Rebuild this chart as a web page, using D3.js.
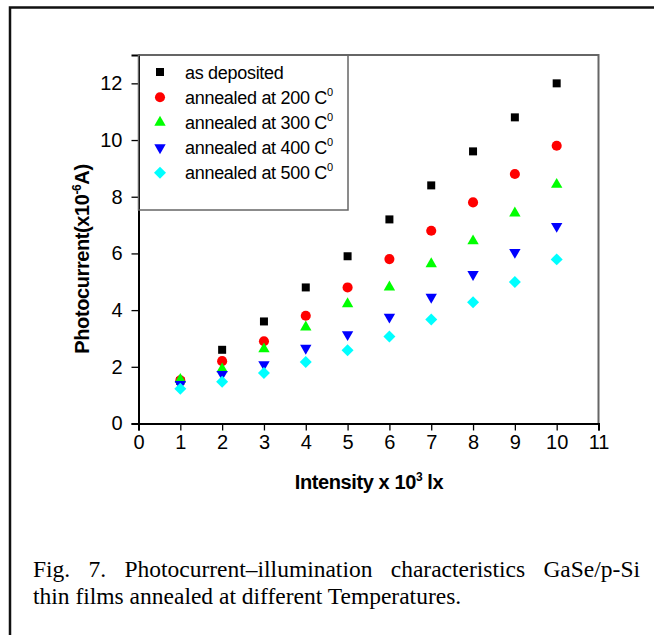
<!DOCTYPE html>
<html lang="en">
<head>
  <meta charset="UTF-8">
  <title>Photocurrent vs Intensity</title>
  <script src="https://d3js.org/d3.v7.min.js"></script>
  <style>
    body { margin: 0; background: #fff; }
    svg { display: block; }
    .tick text { font-family: "Liberation Sans", Arial, sans-serif; font-size: 20px; fill: #000; }
  </style>
</head>
<body>
  <svg width="654" height="635"></svg>
  <script>
    // values
    const intensity = [1, 2, 3, 4, 5, 6, 7, 8, 9, 10];
    const asDeposited = [1.5, 2.6, 3.6, 4.8, 5.9, 7.2, 8.4, 9.6, 10.8, 12.0];
    const annealed200 = [1.52, 2.2, 2.9, 3.8, 4.8, 5.8, 6.8, 7.8, 8.8, 9.8];
    const annealed300 = [1.55, 1.92, 2.63, 3.4, 4.22, 4.81, 5.63, 6.44, 7.42, 8.43];
    const annealed400 = [1.38, 1.74, 2.08, 2.66, 3.14, 3.76, 4.46, 5.26, 6.04, 6.96];
    const annealed500 = [1.23, 1.47, 1.78, 2.17, 2.58, 3.07, 3.67, 4.28, 4.99, 5.79];
    const seriesNames = ["as deposited", "annealed at 200 C", "annealed at 300 C", "annealed at 400 C", "annealed at 500 C"];
    const xTicks = d3.range(0, 12);
    const yTicks = [0, 2, 4, 6, 8, 10, 12];
    const captionLine1 = "Fig. 7. Photocurrent\u2013illumination characteristics GaSe/p-Si";
    const captionLine2 = "thin films annealed at different Temperatures.";

    const series = [
      { name: seriesNames[0], values: asDeposited, color: "#000000", type: d3.symbolSquare, size: 64, rot: 0 },
      { name: seriesNames[1], values: annealed200, color: "#ff0000", type: d3.symbolCircle, size: 80, rot: 0 },
      { name: seriesNames[2], values: annealed300, color: "#00ff00", type: d3.symbolTriangle, size: 56, rot: 0 },
      { name: seriesNames[3], values: annealed400, color: "#0000ff", type: d3.symbolTriangle, size: 56, rot: 180 },
      { name: seriesNames[4], values: annealed500, color: "#00ffff", type: d3.symbolSquare, size: 72, rot: 45 }
    ];

    const svg = d3.select("svg");
    const sans = "'Liberation Sans', Arial, sans-serif";
    const serif = "'Liberation Serif', 'Times New Roman', serif";

    // outer figure frame (top and left only visible)
    svg.append("path")
      .attr("d", "M10,640 L10,7.5 L660,7.5")
      .attr("fill", "none")
      .attr("stroke", "#111")
      .attr("stroke-width", 2.5);

    const x = d3.scaleLinear().domain([0, 11]).range([138.5, 598.5]);
    const y = d3.scaleLinear().domain([0, 13]).range([423.5, 55]);

    // top / right frame of plot
    svg.append("path")
      .attr("d", `M${x(0)},${y(13)} L${x(11)},${y(13)} L${x(11)},${y(0)}`)
      .attr("fill", "none")
      .attr("stroke", "#666")
      .attr("stroke-width", 2);

    // minor ticks first, then major
    const gX = svg.append("g").attr("transform", `translate(0,${y(0)})`);
    gX.call(d3.axisBottom(x).tickValues(d3.range(0.5, 11, 1)).tickSize(4).tickFormat(""));
    gX.call(d3.axisBottom(x).tickValues(xTicks).tickSize(7).tickPadding(4).tickFormat(d3.format("d")));
    const gY = svg.append("g").attr("transform", `translate(${x(0)},0)`);
    gY.call(d3.axisLeft(y).tickValues(d3.range(1, 13, 2)).tickSize(4).tickFormat(""));
    gY.call(d3.axisLeft(y).tickValues(yTicks).tickSize(7).tickPadding(9).tickFormat(d3.format("d")));
    svg.selectAll(".domain").attr("stroke", "#000").attr("stroke-width", 2);
    svg.selectAll(".tick line").attr("stroke", "#000").attr("stroke-width", 1.3);

    // axis titles
    const xt = svg.append("text")
      .attr("x", 369).attr("y", 489)
      .attr("text-anchor", "middle")
      .attr("font-family", sans).attr("font-size", 20).attr("font-weight", "bold")
      .attr("letter-spacing", -0.4);
    xt.append("tspan").text("Intensity x 10");
    xt.append("tspan").attr("font-size", 12).attr("dy", -8).text("3");
    xt.append("tspan").attr("dy", 8).text(" lx");

    const yt = svg.append("text")
      .attr("transform", "translate(89,259) rotate(-90)")
      .attr("text-anchor", "middle")
      .attr("font-family", sans).attr("font-size", 20).attr("font-weight", "bold")
      .attr("letter-spacing", -0.4);
    yt.append("tspan").text("Photocurrent(x10");
    yt.append("tspan").attr("font-size", 12).attr("dy", -8).text("-6");
    yt.append("tspan").attr("dy", 8).text("A)");

    // points
    series.forEach(s => {
      svg.append("g").selectAll("path")
        .data(intensity.map((v, i) => [v, s.values[i]]))
        .join("path")
        .attr("d", d3.symbol().type(s.type).size(s.size))
        .attr("transform", d => `translate(${x(d[0])},${y(d[1])}) rotate(${s.rot})`)
        .attr("fill", s.color);
    });

    // legend
    svg.append("rect")
      .attr("x", x(0)).attr("y", y(13))
      .attr("width", 348 - x(0)).attr("height", 210 - y(13))
      .attr("fill", "none").attr("stroke", "#666").attr("stroke-width", 1.5);
    series.forEach((s, i) => {
      const cy = 72 + i * 25.2;
      svg.append("path")
        .attr("d", d3.symbol().type(s.type).size(s.size))
        .attr("transform", `translate(160,${cy}) rotate(${s.rot})`)
        .attr("fill", s.color);
      const t = svg.append("text")
        .attr("x", 185).attr("y", cy + 6.5)
        .attr("font-family", sans).attr("font-size", 18)
        .attr("letter-spacing", -0.3);
      t.append("tspan").text(s.name);
      if (i > 0) t.append("tspan").attr("font-size", 11).attr("dy", -8).text("0");
    });

    // caption, first line justified between the margins
    const left = 33, right = 640;
    const words = captionLine1.split(" ");
    const wNodes = words.map(w => svg.append("text")
      .attr("y", 577)
      .attr("font-family", serif).attr("font-size", 23.5)
      .text(w));
    const widths = wNodes.map(n => n.node().getComputedTextLength());
    const gap = (right - left - d3.sum(widths)) / (words.length - 1);
    let cx = left;
    wNodes.forEach((n, i) => { n.attr("x", cx); cx += widths[i] + gap; });

    svg.append("text")
      .attr("x", left).attr("y", 604)
      .attr("font-family", serif).attr("font-size", 23.5)
      .text(captionLine2);
  </script>
</body>
</html>
